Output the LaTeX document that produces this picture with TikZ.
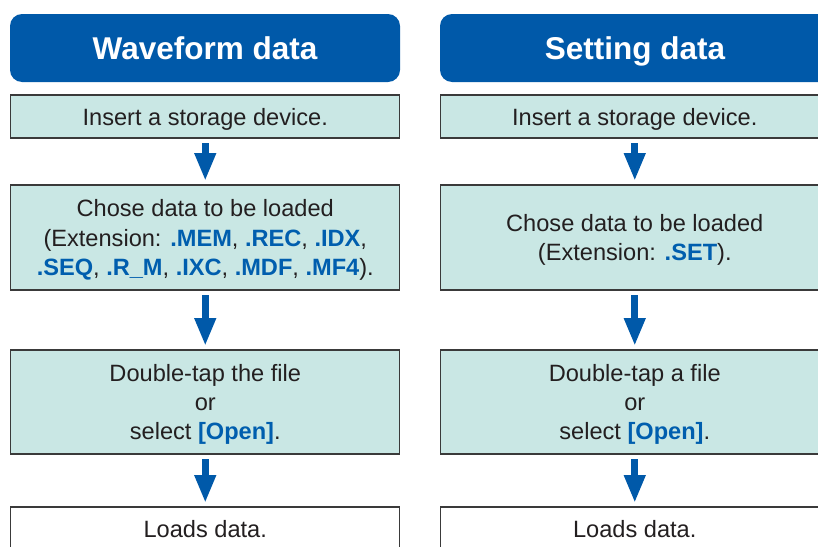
\documentclass[tikz,border=0pt]{standalone}
\usepackage{fontspec}
\setmainfont{Liberation Sans}
\usetikzlibrary{arrows.meta}
\definecolor{hblue}{HTML}{0059A9}
\definecolor{kblue}{HTML}{005EAE}
\definecolor{boxfill}{HTML}{C9E7E4}
\definecolor{boxline}{HTML}{3A3A3A}
\definecolor{txt}{HTML}{231F20}
\newcommand\kw[1]{\textcolor{kblue}{\bfseries #1}}
\tikzset{
  header/.style={fill=hblue, rounded corners=12pt, inner sep=0pt, outer sep=0pt,
    minimum width=390pt, minimum height=68pt, text=white, text depth=0pt,
    font=\fontsize{31.5}{36}\selectfont\bfseries},
  stepbox/.style={draw=boxline, line width=1.3pt, fill=boxfill, inner sep=0pt, outer sep=0pt,
    minimum width=389pt, align=center, text=txt, text depth=0pt,
    font=\fontsize{23.6}{29.3}\selectfont},
  endbox/.style={stepbox, fill=white},
  flow/.style={draw=hblue, line width=7pt, line cap=butt,
    -{Triangle[width=20pt,length=28pt]}, shorten <=5pt, shorten >=4pt}
}
\begin{document}
\begin{tikzpicture}[x=1pt,y=-1pt]
\useasboundingbox (0,0) rectangle (818,546);
\clip (0,0) rectangle (818,546);
% left column
\node[header] (hl) at (205,48) {Waveform data};
\node[stepbox, minimum height=43pt] (l1) at (205.25,116.5) {Insert a storage device.};
\node[stepbox, minimum height=105pt] (l2) at (205.25,237.5) {Chose data to be loaded\\(Extension: \kw{.MEM}, \kw{.REC}, \kw{.IDX},\\\kw{.SEQ}, \kw{.R\_M}, \kw{.IXC}, \kw{.MDF}, \kw{.MF4}).};
\node[stepbox, minimum height=104pt] (l3) at (205.25,402) {Double-tap the file\\or\\select \kw{[Open]}.};
\node[endbox, minimum height=43pt] (l4) at (205.25,528.5) {Loads data.};
\draw[flow] (l1) -- (l2);
\draw[flow] (l2) -- (l3);
\draw[flow] (l3) -- (l4);
% right column
\node[header] (hr) at (635,48) {Setting data};
\node[stepbox, minimum height=43pt] (r1) at (634.75,116.5) {Insert a storage device.};
\node[stepbox, minimum height=105pt] (r2) at (634.75,237.5) {Chose data to be loaded\\(Extension: \kw{.SET}).};
\node[stepbox, minimum height=104pt] (r3) at (634.75,402) {Double-tap a file\\or\\select \kw{[Open]}.};
\node[endbox, minimum height=43pt] (r4) at (634.75,528.5) {Loads data.};
\draw[flow] (r1) -- (r2);
\draw[flow] (r2) -- (r3);
\draw[flow] (r3) -- (r4);
\end{tikzpicture}
\end{document}
